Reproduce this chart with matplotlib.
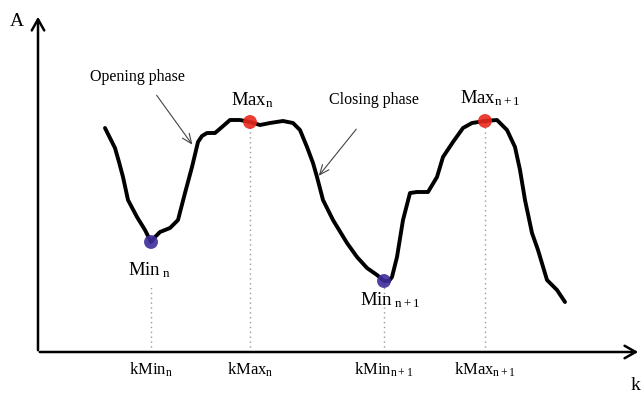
import numpy as np
import matplotlib
matplotlib.use("Agg")
import matplotlib.pyplot as plt

plt.rcParams['font.family'] = ['Liberation Serif', 'DejaVu Serif']
plt.rcParams['mathtext.fontset'] = 'custom'
plt.rcParams['mathtext.rm'] = 'Liberation Serif'
plt.rcParams['mathtext.it'] = 'Liberation Serif'

# curve (k along axis, A amplitude)
k = [67, 72, 77, 81, 85, 90, 99, 107, 113, 117, 122, 132, 140, 147, 154, 160, 164,
     169, 177, 184, 192, 202, 212, 222, 232, 245, 255, 262, 269, 275, 279, 285,
     295, 309, 319, 329, 339, 346, 351, 354, 359, 365, 372, 379, 390, 399, 405,
     415, 425, 434, 447, 459, 469, 477, 482, 487, 494, 500, 509, 519, 527]
A = [224, 214, 204, 190, 175, 152, 135, 122, 110, 115, 120, 124, 132, 159, 185, 210, 216,
     219, 219, 225, 232, 232, 230, 227, 229, 231, 229, 222, 205, 189, 175, 152,
     132, 109, 95, 84, 77, 71, 71, 75, 95, 132, 159, 160, 160, 175, 195,
     210, 224, 229, 231, 232, 222, 205, 182, 152, 119, 102, 72, 62, 50]

k_max = [212, 447]
A_max = [230, 231]
k_min = [113, 346]
A_min = [110, 71]
tick_labels = [r"kMin$_{\mathrm{n}}$", r"kMax$_{\mathrm{n}}$",
               r"kMin$_{\mathrm{n+1}}$", r"kMax$_{\mathrm{n+1}}$"]
tick_pos = [113, 212, 346, 447]

fig = plt.figure(figsize=(6.44, 3.97), dpi=100)
ax = fig.add_axes([0, 0, 1, 1])
ax.set_xlim(-38, 606)
ax.set_ylim(-45, 352)
ax.axis('off')

# axes with arrows
ax.annotate("", xy=(603, 0), xytext=(-1, 0),
            arrowprops=dict(arrowstyle="->,head_length=0.8,head_width=0.45",
                            lw=1.8, color="black"))
ax.annotate("", xy=(0, 338), xytext=(0, -1),
            arrowprops=dict(arrowstyle="->,head_length=0.8,head_width=0.45",
                            lw=1.8, color="black"))
ax.text(-21, 331, "A", fontsize=14, ha="center", va="center")
ax.text(598, -33, "k", fontsize=14, ha="center", va="center")

# dotted guides
ax.plot([k_min[0], k_min[0]], [0, 65], ls=(0, (1, 2.5)), color="#999999", lw=1)
ax.plot([k_min[1], k_min[1]], [0, A_min[1]], ls=(0, (1, 2.5)), color="#999999", lw=1)
for kk, aa in zip(k_max, A_max):
    ax.plot([kk, kk], [0, aa], ls=(0, (1, 2.5)), color="#999999", lw=1)

ax.plot(k, A, color="black", lw=2.8, solid_capstyle="round",
        solid_joinstyle="round", zorder=3)
ax.scatter(k_max, A_max, s=100, color="#e8281e", zorder=4, edgecolors="none", alpha=0.9)
ax.scatter(k_min, A_min, s=100, color="#3d2d9a", zorder=4, edgecolors="none", alpha=0.9)

for x, lab in zip(tick_pos, tick_labels):
    ax.text(x, -18, lab, fontsize=12, ha="center", va="center")

ax.text(112, 82, r"Min$_{\ \mathrm{n}}$", fontsize=13.5, ha="center", va="center")
ax.text(214, 252, r"Max$_{\mathrm{n}}$", fontsize=13.5, ha="center", va="center")
ax.text(352, 52, r"Min$_{\ \mathrm{n+1}}$", fontsize=13.5, ha="center", va="center")
ax.text(452, 254, r"Max$_{\mathrm{n+1}}$", fontsize=13.5, ha="center", va="center")

ax.text(99, 275, "Opening phase", fontsize=11.5, ha="center", va="center")
ax.text(336, 252, "Closing phase", fontsize=11.5, ha="center", va="center")
ax.annotate("", xy=(156, 205), xytext=(117, 259),
            arrowprops=dict(arrowstyle="->,head_length=0.7,head_width=0.3",
                            lw=0.8, color="#444444"))
ax.annotate("", xy=(279, 174), xytext=(320, 225),
            arrowprops=dict(arrowstyle="->,head_length=0.7,head_width=0.3",
                            lw=0.8, color="#444444"))

fig.savefig("out.png", dpi=100)
